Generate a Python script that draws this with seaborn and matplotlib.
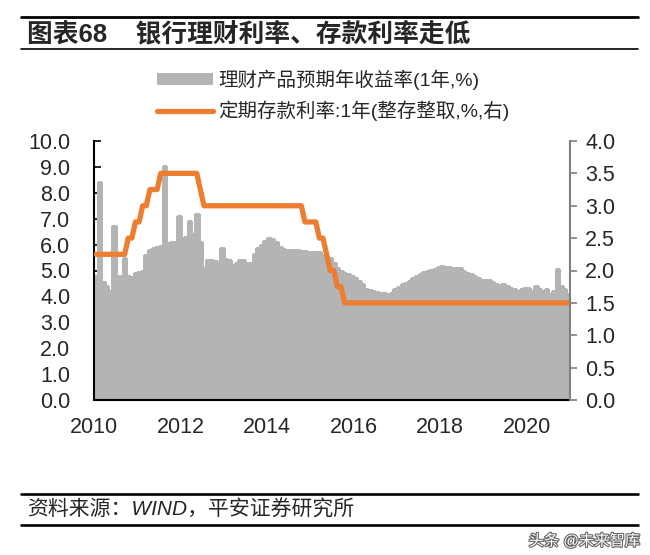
import numpy as np
import pandas as pd
import matplotlib
matplotlib.use("Agg")
import matplotlib.pyplot as plt
import matplotlib.patheffects as pe
from matplotlib.patches import Patch
from matplotlib.lines import Line2D
import seaborn as sns

# ---------------- data ----------------
# monthly, Jan 2010 .. Dec 2020
wealth_yield = [
    4.8, 8.4, 4.55, 4.4, 4.2, 6.7, 4.8, 4.8, 5.5, 4.8, 4.75, 4.9,          # 2010
    4.95, 5.0, 5.6, 5.8, 5.85, 5.9, 5.95, 9.05, 6.05, 6.1, 6.1, 7.1,       # 2011
    6.0, 6.3, 6.9, 6.4, 7.2, 6.1, 5.1, 5.4, 5.4, 5.35, 5.23, 5.85,         # 2012
    5.45, 5.4, 5.2, 5.3, 5.4, 5.4, 5.3, 5.3, 5.65, 5.85, 6.0, 6.15,        # 2013
    6.25, 6.2, 6.1, 5.9, 5.82, 5.8, 5.8, 5.8, 5.78, 5.75, 5.75, 5.73,      # 2014
    5.72, 5.72, 5.7, 5.6, 5.55, 5.5, 5.3, 5.1, 4.97, 4.9, 4.85, 4.78,      # 2015
    4.72, 4.6, 4.46, 4.3, 4.25, 4.2, 4.18, 4.15, 4.12, 4.08, 4.15, 4.27,   # 2016
    4.38, 4.46, 4.53, 4.6, 4.7, 4.78, 4.88, 4.93, 4.97, 5.02, 5.07, 5.12,  # 2017
    5.16, 5.15, 5.13, 5.11, 5.1, 5.08, 5.0, 4.92, 4.85, 4.78, 4.72, 4.65,  # 2018
    4.63, 4.62, 4.55, 4.46, 4.45, 4.46, 4.4, 4.33, 4.27, 4.2, 4.3, 4.32,   # 2019
    4.33, 4.2, 4.4, 4.3, 4.2, 4.27, 4.1, 4.2, 5.07, 4.4, 4.3, 4.1,         # 2020
]
deposit_rate = (
    [2.25] * 9 + [2.5] * 2 + [2.75] * 2 + [3.0] * 2 + [3.25] * 3 + [3.5] * 11
    + [3.25] * 1 + [3.0] * 28 + [2.75] * 4 + [2.5] * 2 + [2.25] * 1
    + [2.0] * 2 + [1.75] * 2 + [1.5] * 63
)
year_labels = ["2010", "2012", "2014", "2016", "2018", "2020"]
left_ticks = [0, 1, 2, 3, 4, 5, 6, 7, 8, 9, 10]
right_ticks = [0, 0.5, 1.0, 1.5, 2.0, 2.5, 3.0, 3.5, 4.0]
label_bar = "理财产品预期年收益率(1年,%)"
label_line = "定期存款利率:1年(整存整取,%,右)"
title = "图表68    银行理财利率、存款利率走低"
source = "资料来源：WIND，平安证券研究所"
watermark = "头条 @未来智库"

GREY = "#b4b4b4"
ORANGE = "#ED7D31"

df = pd.DataFrame({"m": np.arange(len(wealth_yield)),
                   "yield": wealth_yield,
                   "deposit": deposit_rate})

sns.set_style("white")
plt.rcParams["font.family"] = ["Liberation Sans", "Noto Sans CJK SC", "DejaVu Sans"]

W, H = 650, 555
fig = plt.figure(figsize=(W / 100, H / 100), dpi=100)
ax = fig.add_axes([94 / W, 1 - 400 / H, (570 - 94) / W, (400 - 141) / H])

sns.barplot(data=df, x="m", y="yield", ax=ax, color=GREY, saturation=1,
            width=1.0, edgecolor=GREY, linewidth=0.8)
for p in ax.patches:
    p.set_antialiased(False)
ax.set_xlim(-0.5, len(wealth_yield) - 0.5)
ax.set_ylim(0, 10)
ax.set_xticks([-0.5 + 24 * i for i in range(len(year_labels))])
ax.set_xticklabels(year_labels)
ax.set_yticks(left_ticks)
ax.set_yticklabels([f"{v:.1f}" for v in left_ticks])
ax.set_xlabel("")
ax.set_ylabel("")
for s in ["top", "right"]:
    ax.spines[s].set_visible(False)
for s in ["left", "bottom"]:
    ax.spines[s].set_color("black")
    ax.spines[s].set_linewidth(1.5)
ax.tick_params(axis="y", direction="in", length=5, width=1.2, color="black",
               labelsize=15.5, pad=17, left=True)
ax.tick_params(axis="x", direction="in", length=4, width=1.2, color="black",
               labelsize=15.5, pad=12, bottom=True)

ax2 = ax.twinx()
sns.lineplot(data=df, x="m", y="deposit", ax=ax2, color=ORANGE,
             linewidth=3.8, legend=False)
ax2.set_ylim(0, 4)
ax2.set_yticks(right_ticks)
ax2.set_yticklabels([f"{v:.1f}" for v in right_ticks])
ax2.set_xlim(-0.5, len(wealth_yield) - 0.5)
ax2.set_ylabel("")
ax2.set_xlabel("")
for s in ["top", "left", "bottom"]:
    ax2.spines[s].set_visible(False)
ax2.spines["right"].set_color("#808080")
ax2.spines["right"].set_linewidth(1.5)
ax2.tick_params(axis="y", direction="out", length=5, width=1.2, color="#808080",
                labelsize=15.5, pad=6, right=True)

# legend
handles = [Patch(facecolor=GREY, edgecolor="none"),
           Line2D([], [], color=ORANGE, linewidth=3.8)]
fig.legend(handles, [label_bar, label_line], loc="center left",
           bbox_to_anchor=(157 / W, 1 - 95.5 / H), frameon=False,
           fontsize=14, borderpad=0, borderaxespad=0, handlelength=2.87,
           handleheight=0.55, handletextpad=0.26, labelspacing=0.55)

# title and rules
fig.text(27 / W, 1 - 34 / H, title, fontsize=18.5, fontweight="bold",
         va="center", ha="left")
fig.add_artist(Line2D([21 / W, 638 / W], [1 - 17.3 / H] * 2, color="black", lw=2.0))
fig.add_artist(Line2D([21 / W, 638 / W], [1 - 49.3 / H] * 2, color="black", lw=1.2))

# source and rules
fig.add_artist(Line2D([21 / W, 638 / W], [1 - 494 / H] * 2, color="black", lw=1.9))
fig.add_artist(Line2D([21 / W, 638 / W], [1 - 525 / H] * 2, color="black", lw=1.9))
fig.text(27 / W, 1 - 510 / H, source, fontsize=15, style="italic",
         va="center", ha="left")
fig.text(640 / W, 1 - 541 / H, watermark, fontsize=11, color="white",
         va="center", ha="right",
         path_effects=[pe.withStroke(linewidth=1.6, foreground="#666666")])

fig.savefig("out.png", dpi=100)
